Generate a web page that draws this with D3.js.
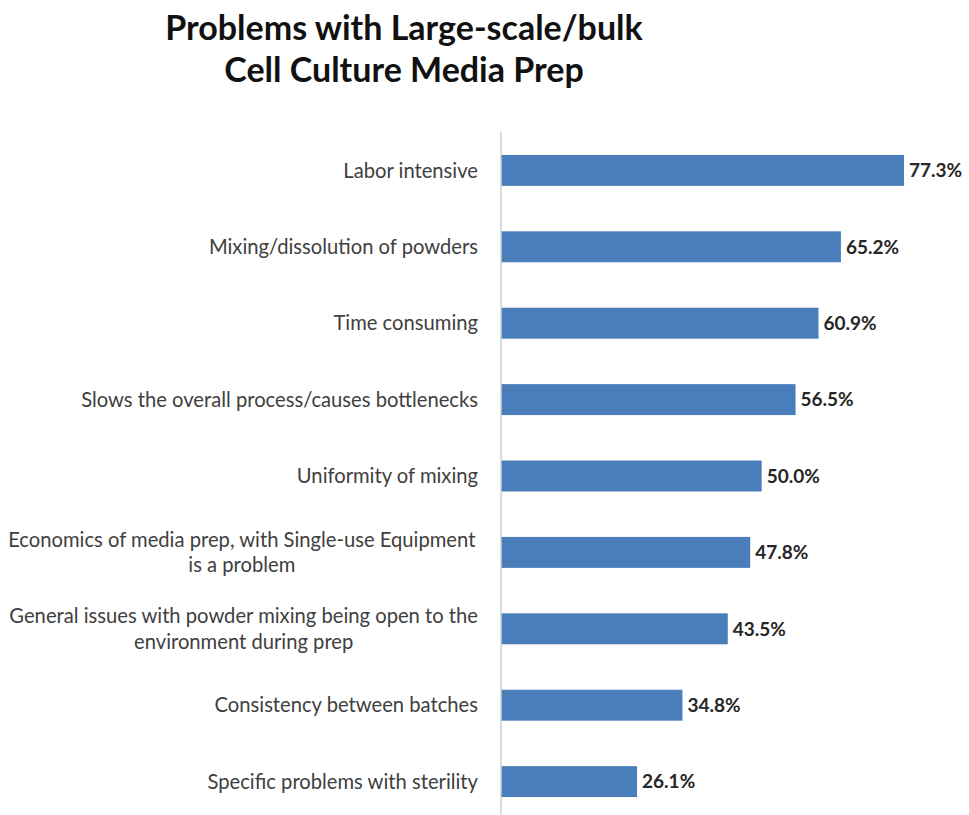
<!DOCTYPE html>
<html>
<head>
<meta charset="utf-8">
<script src="https://cdn.jsdelivr.net/npm/d3@7"></script>
<style>
    body { margin: 0; background: #fff; }
    svg { display: block; }
</style>
</head>
<body>
<svg width="969" height="815"></svg>
<script>
var categories = [
    'Labor intensive',
    'Mixing/dissolution of powders',
    'Time consuming',
    'Slows the overall process/causes bottlenecks',
    'Uniformity of mixing',
    'Economics of media prep, with Single-use Equipment|is a problem',
    'General issues with powder mixing being open to the|environment during prep',
    'Consistency between batches',
    'Specific problems with sterility'
];
var values = [77.3, 65.2, 60.9, 56.5, 50.0, 47.8, 43.5, 34.8, 26.1];
var titleLines = ['Problems with Large-scale/bulk', 'Cell Culture Media Prep'];

var svg = d3.select('svg');
var axisX = 501;

var xScale = d3.scaleLinear().domain([0, 77.3]).range([axisX, 904]);
var yScale = d3.scaleBand().domain(categories).range([132, 820]).paddingInner(0.595).paddingOuter(0.3);

// Title
svg.append('g')
    .selectAll('text')
    .data(titleLines)
    .join('text')
    .attr('x', 404)
    .attr('y', function(d, i) { return 40 + i * 42; })
    .attr('text-anchor', 'middle')
    .style('font-family', 'Lato, "Open Sans", sans-serif')
    .style('font-weight', 'bold')
    .style('font-size', '34px')
    .style('fill', '#111')
    .text(function(d) { return d; });

// Bars
svg.append('g')
    .selectAll('rect')
    .data(values)
    .join('rect')
    .attr('x', axisX)
    .attr('y', function(d, i) { return yScale(categories[i]); })
    .attr('width', function(d) { return xScale(d) - axisX; })
    .attr('height', yScale.bandwidth())
    .style('fill', '#4a7ebb');

// Axis line
svg.append('line')
    .attr('x1', axisX).attr('x2', axisX)
    .attr('y1', 132).attr('y2', 820)
    .style('stroke', '#cfcfcf')
    .style('stroke-width', 1.5);

// Value labels
svg.append('g')
    .selectAll('text')
    .data(values)
    .join('text')
    .attr('x', function(d) { return xScale(d) + 5; })
    .attr('y', function(d, i) { return yScale(categories[i]) + yScale.bandwidth() / 2; })
    .attr('dy', '0.36em')
    .style('font-family', 'Lato, "Open Sans", sans-serif')
    .style('font-weight', 'bold')
    .style('font-size', '19px')
    .style('fill', '#262626')
    .text(function(d) { return d.toFixed(1) + '%'; });

// Category labels (right aligned block, wrapped lines centred)
var labels = svg.append('g')
    .selectAll('text')
    .data(categories)
    .join('text')
    .attr('y', function(d) { return yScale(d) + yScale.bandwidth() / 2; })
    .attr('text-anchor', 'middle')
    .style('font-family', 'Lato, "Open Sans", sans-serif')
    .style('font-size', '20.2px')
    .style('fill', '#404040');

labels.each(function(d) {
    var el = d3.select(this);
    var lines = d.split('|');
    var n = lines.length;
    lines.forEach(function(line, i) {
        el.append('tspan')
            .attr('dy', i === 0 ? (0.36 - (n - 1) * 0.63) + 'em' : '1.26em')
            .text(line);
    });
    var maxW = 0;
    el.selectAll('tspan').each(function() {
        maxW = Math.max(maxW, this.getComputedTextLength());
    });
    el.selectAll('tspan').attr('x', 478 - maxW / 2);
});
</script>
</body>
</html>
